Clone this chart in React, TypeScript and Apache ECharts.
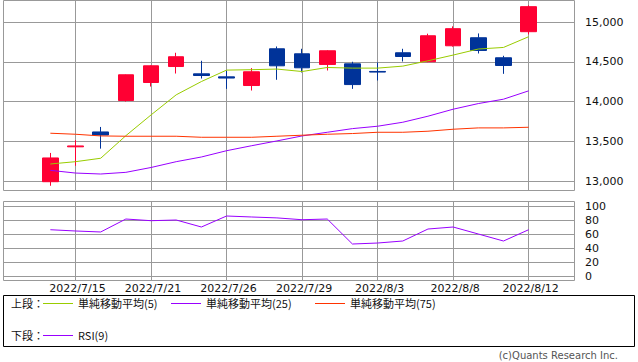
import React, { useEffect, useRef } from "react";
import * as echarts from "echarts";

// ---- data ----
const dates = [
  "2022/7/14", "2022/7/15", "2022/7/19", "2022/7/20", "2022/7/21", "2022/7/22",
  "2022/7/25", "2022/7/26", "2022/7/27", "2022/7/28", "2022/7/29", "2022/8/1",
  "2022/8/2", "2022/8/3", "2022/8/4", "2022/8/5", "2022/8/8", "2022/8/9",
  "2022/8/10", "2022/8/12",
];
const opens = [12991, 13430, 13617, 14012, 14239, 14440, 14348, 14310, 14201, 14663, 14600, 14466, 14474, 14378, 14613, 14500, 14701, 14802, 14550, 14878];
const closes = [13290, 13441, 13579, 14336, 14449, 14563, 14327, 14295, 14374, 14449, 14424, 14638, 14213, 14370, 14566, 14827, 14916, 14642, 14453, 15193];
const lows = [12940, 13192, 13407, 13999, 14188, 14352, 14289, 14159, 14138, 14273, 14365, 14390, 14159, 14264, 14503, 14495, 14690, 14604, 14348, 14844];
const highs = [13353, 13513, 13680, 14340, 14455, 14613, 14512, 14386, 14420, 14692, 14663, 14645, 14500, 14491, 14663, 14853, 14945, 14856, 14575, 15209];
const ma5 = [13214, 13243, 13286, 13570, 13831, 14084, 14251, 14395, 14400, 14408, 14377, 14428, 14420, 14420, 14445, 14512, 14584, 14660, 14680, 14815];
const ma25 = [13134, 13100, 13088, 13109, 13170, 13243, 13302, 13381, 13444, 13504, 13567, 13613, 13659, 13689, 13739, 13815, 13903, 13974, 14029, 14134];
const ma75 = [13601, 13588, 13567, 13563, 13563, 13563, 13550, 13550, 13550, 13563, 13576, 13588, 13597, 13613, 13613, 13626, 13651, 13668, 13668, 13676];
const rsi = [66.1, 64.3, 62.9, 81.4, 79, 80, 70, 85.7, 84.3, 83, 80.4, 81.4, 45.7, 47.1, 50, 67.1, 70, 60, 50, 66.1];
const tickLabels = ["2022/7/15", "2022/7/21", "2022/7/26", "2022/7/29", "2022/8/3", "2022/8/8", "2022/8/12"];
const padBefore = ["pad-a", "pad-b"];
const padAfter = ["pad-c", "pad-d"];
const upperNames = ["単純移動平均(5)", "単純移動平均(25)", "単純移動平均(75)"];
const lowerNames = ["RSI(9)"];
const priceTicks = { min: 13000, max: 15000, interval: 500 };
const rsiTicks = { min: 0, max: 100, interval: 20 };

const UP = "#ff0033";
const DOWN = "#003399";
const C_MA5 = "#99cc00";
const C_MA25 = "#9900ff";
const C_MA75 = "#ff3300";
const C_RSI = "#9900ff";
const GRID = "#999999";
const FONT = "DejaVu Sans";
const CJK = "Noto Sans CJK JP";

const categories = [...padBefore, ...dates, ...padAfter];
const isTick = (_i: number, v: string) => tickLabels.includes(v);
const fmt = (v: number) => String(v).replace(/\B(?=(\d{3})+(?!\d))/g, ",");

export default function App() {
  const ref = useRef<HTMLDivElement>(null);
  useEffect(() => {
    if (!ref.current) return;
    const chart = echarts.init(ref.current, undefined, { renderer: "svg" });
    const source = dates.map((d, i) => [d, opens[i], closes[i], lows[i], highs[i], ma5[i], ma25[i], ma75[i], rsi[i]]);

    const hiddenCat = (gridIndex: number) => ({
      type: "category", gridIndex, data: categories, boundaryGap: false, show: false,
    });
    const lineCat = (gridIndex: number, labels: boolean) => ({
      type: "category", gridIndex, data: categories, boundaryGap: false,
      axisLine: { show: false }, axisTick: { show: false },
      axisLabel: labels
        ? { show: true, interval: isTick, margin: 3, color: "#111", fontSize: 11, fontFamily: FONT, padding: [0, 0, 0, 4] }
        : { show: false },
      splitLine: { show: true, interval: isTick, lineStyle: { color: GRID, width: 1 } },
    });
    const hiddenVal = (gridIndex: number) => ({ type: "value", gridIndex, min: 0, max: 1, show: false });
    const labelY = (gridIndex: number, t: { min: number; max: number; interval: number }, f?: (v: number) => string) => ({
      type: "value", gridIndex, position: "right", min: t.min, max: t.max, interval: t.interval,
      axisLine: { show: false },
      axisTick: { show: true, length: 4, inside: false, lineStyle: { color: GRID } },
      axisLabel: { show: true, margin: 11, color: "#111", fontSize: 11, fontFamily: FONT, formatter: f },
      splitLine: { show: true, lineStyle: { color: GRID, width: 1 } },
    });

    const legendItems: any[] = [];
    const row = (y: number, title: string, names: string[], colors: string[], xs: number[]) => {
      legendItems.push({ type: "text", x: 11, y, style: { text: title, fill: "#111", font: `11px "${CJK}"`, verticalAlign: "middle" } });
      names.forEach((n, i) => {
        legendItems.push({ type: "line", shape: { x1: xs[i], y1: y + 0.5, x2: xs[i] + 30, y2: y + 0.5 }, style: { stroke: colors[i], lineWidth: 1 } });
        legendItems.push({ type: "text", x: xs[i] + 35, y, style: { text: n, fill: "#111", font: `11px "${CJK}"`, verticalAlign: "middle" } });
      });
    };
    row(303, "上段：", upperNames, [C_MA5, C_MA25, C_MA75], [43, 171, 315]);
    row(335, "下段：", lowerNames, [C_RSI], [43]);

    chart.setOption({
      animation: false,
      backgroundColor: "#ffffff",
      dataset: { source },
      grid: [
        { left: 0, right: 59, top: 22, height: 159 },
        { left: 0, right: 59, top: 0, height: 190 },
        { left: 3, right: 64, top: 22, height: 159 },
        { left: 0, right: 59, top: 206, height: 70 },
        { left: 0, right: 59, top: 201, height: 79 },
        { left: 3, right: 64, top: 206, height: 70 },
      ],
      xAxis: [
        hiddenCat(0), lineCat(1, false), { type: "value", gridIndex: 2, min: 0, max: 1, show: false },
        hiddenCat(3), lineCat(4, true), { type: "value", gridIndex: 5, min: 0, max: 1, show: false },
      ],
      yAxis: [
        { type: "value", gridIndex: 0, min: priceTicks.min, max: priceTicks.max, show: false },
        hiddenVal(1),
        labelY(2, priceTicks, fmt),
        { type: "value", gridIndex: 3, min: rsiTicks.min, max: rsiTicks.max, show: false },
        hiddenVal(4),
        labelY(5, rsiTicks),
      ],
      series: [
        {
          type: "candlestick", xAxisIndex: 0, yAxisIndex: 0, barWidth: 16, clip: false,
          encode: { x: 0, y: [1, 2, 3, 4] },
          itemStyle: { color: UP, color0: DOWN, borderColor: UP, borderColor0: DOWN, borderWidth: 1 },
        },
        { type: "line", name: upperNames[0], xAxisIndex: 0, yAxisIndex: 0, encode: { x: 0, y: 5 }, showSymbol: false, clip: false, lineStyle: { color: C_MA5, width: 1 } },
        { type: "line", name: upperNames[1], xAxisIndex: 0, yAxisIndex: 0, encode: { x: 0, y: 6 }, showSymbol: false, clip: false, lineStyle: { color: C_MA25, width: 1 } },
        { type: "line", name: upperNames[2], xAxisIndex: 0, yAxisIndex: 0, encode: { x: 0, y: 7 }, showSymbol: false, clip: false, lineStyle: { color: C_MA75, width: 1 } },
        { type: "line", name: lowerNames[0], xAxisIndex: 3, yAxisIndex: 3, encode: { x: 0, y: 8 }, showSymbol: false, clip: false, lineStyle: { color: C_RSI, width: 1 } },
      ],
      graphic: [
        { type: "rect", shape: { x: 3.5, y: 0.5, width: 571, height: 190 }, style: { fill: "none", stroke: GRID, lineWidth: 1 }, z: 10 },
        { type: "rect", shape: { x: 3.5, y: 201.5, width: 571, height: 79 }, style: { fill: "none", stroke: GRID, lineWidth: 1 }, z: 10 },
        { type: "rect", shape: { x: 3.5, y: 295.5, width: 631, height: 51 }, style: { fill: "none", stroke: "#000", lineWidth: 1 }, z: 10 },
        ...legendItems,
        { type: "text", x: 618, y: 355, style: { text: "(c)Quants Research Inc.", fill: "#555", font: `10px "${FONT}"`, align: "right", verticalAlign: "middle" } },
      ],
    });
    return () => chart.dispose();
  }, []);
  return <div ref={ref} style={{ position: "fixed", left: 0, top: 0, width: 638, height: 362 }} />;
}
